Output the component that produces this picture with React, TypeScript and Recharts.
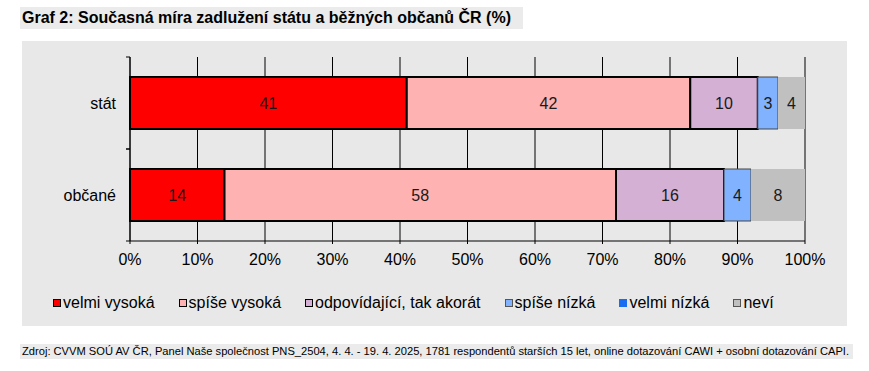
import React from 'react';
import { BarChart, Bar, XAxis, YAxis, CartesianGrid, LabelList } from 'recharts';

const categories = ['stát', 'občané'];
const seriesNames = [
  'velmi vysoká',
  'spíše vysoká',
  'odpovídající, tak akorát',
  'spíše nízká',
  'velmi nízká',
  'neví',
];
const veryHigh = [41, 14];
const ratherHigh = [42, 58];
const adequate = [10, 16];
const ratherLow = [3, 4];
const veryLow = [0, 0];
const dontKnow = [4, 8];
const xTicks = [0, 10, 20, 30, 40, 50, 60, 70, 80, 90, 100];

const title = 'Graf 2: Současná míra zadlužení státu a běžných občanů ČR (%)';
const source =
  'Zdroj: CVVM SOÚ AV ČR, Panel Naše společnost PNS_2504, 4. 4. - 19. 4. 2025, 1781 respondentů starších 15 let, online dotazování CAWI + osobní dotazování CAPI.';

const seriesValues = [veryHigh, ratherHigh, adequate, ratherLow, veryLow, dontKnow];

const styles = [
  { fill: '#ff0000', stroke: '#000', strokeWidth: 2, box: '#000' },
  { fill: '#ffb2b2', stroke: '#000', strokeWidth: 2, box: '#000' },
  { fill: '#d4b1d4', stroke: '#000', strokeWidth: 2, box: '#000' },
  { fill: '#80b2ff', stroke: '#444', strokeWidth: 1, box: '#555' },
  { fill: '#1a6cf0', stroke: 'none', strokeWidth: 0, box: '#1a6cf0' },
  { fill: '#c0c0c0', stroke: 'none', strokeWidth: 0, box: '#555' },
];

const data = categories.map((name, i) => {
  const row: Record<string, string | number> = { name };
  seriesValues.forEach((vals, s) => {
    row['s' + s] = vals[i];
  });
  return row;
});

const FONT = 'Arial, "Liberation Sans", sans-serif';
const CHART_W = 869;
const CHART_H = 300;
const MARGIN = { top: 57, right: 64, left: 0, bottom: 29 };
const PLOT_H = CHART_H - MARGIN.top - MARGIN.bottom - 30;
const AXIS_X = 130;

function YTick(props: any) {
  const { y, payload } = props;
  const half = PLOT_H / categories.length / 2;
  return (
    <g>
      <line x1={AXIS_X - 4} x2={AXIS_X} y1={y - half} y2={y - half} stroke="#000" />
      <line x1={AXIS_X - 4} x2={AXIS_X} y1={y + half} y2={y + half} stroke="#000" />
      <text
        x={AXIS_X - 14}
        y={y}
        textAnchor="end"
        dominantBaseline="central"
        fontSize={16}
        fill="#000"
      >
        {payload.value}
      </text>
    </g>
  );
}

export default function App() {
  return (
    <div
      style={{
        position: 'absolute',
        left: 0,
        top: 0,
        width: 869,
        height: 371,
        background: '#fff',
        fontFamily: FONT,
        overflow: 'hidden',
      }}
    >
      <div
        style={{
          position: 'absolute',
          left: 20,
          top: 7,
          fontSize: 16,
          fontWeight: 'bold',
          lineHeight: '22px',
          background: '#ebebeb',
          padding: '0 12px 0 2px',
          color: '#000',
          whiteSpace: 'nowrap',
        }}
      >
        {title}
      </div>

      <div
        style={{
          position: 'absolute',
          left: 22,
          top: 41,
          width: 825,
          height: 285,
          background: '#e8e8e8',
        }}
      />

      <div style={{ position: 'absolute', left: 0, top: 0 }}>
        <BarChart
          width={CHART_W}
          height={CHART_H}
          data={data}
          layout="vertical"
          margin={MARGIN}
          style={{ fontFamily: FONT }}
        >
          <CartesianGrid stroke="#000" horizontal={false} vertical={true} />
          <XAxis
            type="number"
            domain={[0, 100]}
            ticks={xTicks}
            interval={0}
            height={30}
            tickFormatter={(v: number) => `${v}%`}
            tick={{ fill: '#000', fontSize: 16 }}
            tickSize={3}
            tickMargin={10}
            axisLine={{ stroke: '#000' }}
            tickLine={{ stroke: '#000' }}
          />
          <YAxis
            type="category"
            dataKey="name"
            width={130}
            tick={<YTick />}
            tickLine={false}
            axisLine={{ stroke: '#000' }}
          />
          {seriesNames.map((name, s) => (
            <Bar
              key={name}
              dataKey={'s' + s}
              name={name}
              stackId="a"
              barSize={52}
              fill={styles[s].fill}
              stroke={styles[s].stroke}
              strokeWidth={styles[s].strokeWidth}
              isAnimationActive={false}
            >
              <LabelList
                dataKey={'s' + s}
                position="center"
                fill="#1a1a1a"
                fontSize={16}
                formatter={(v: any) => (v ? v : '')}
              />
            </Bar>
          ))}
        </BarChart>
      </div>

      <div
        style={{
          position: 'absolute',
          left: 53,
          top: 293,
          display: 'flex',
          alignItems: 'center',
          gap: 24,
          fontSize: 16,
          color: '#000',
          whiteSpace: 'nowrap',
        }}
      >
        {seriesNames.map((name, s) => (
          <div key={name} style={{ display: 'flex', alignItems: 'center' }}>
            <span
              style={{
                display: 'inline-block',
                width: 6,
                height: 6,
                background: styles[s].fill,
                border: `1.5px solid ${styles[s].box}`,
                marginRight: 2,
              }}
            />
            <span style={{ lineHeight: '20px' }}>{name}</span>
          </div>
        ))}
      </div>

      <div
        style={{
          position: 'absolute',
          left: 20,
          top: 344,
          width: 833,
          height: 15,
          background: '#ebebeb',
        }}
      />
      <div
        style={{
          position: 'absolute',
          left: 22,
          top: 344,
          fontSize: 11.15,
          lineHeight: '15px',
          color: '#000',
          whiteSpace: 'nowrap',
        }}
      >
        {source}
      </div>
    </div>
  );
}
